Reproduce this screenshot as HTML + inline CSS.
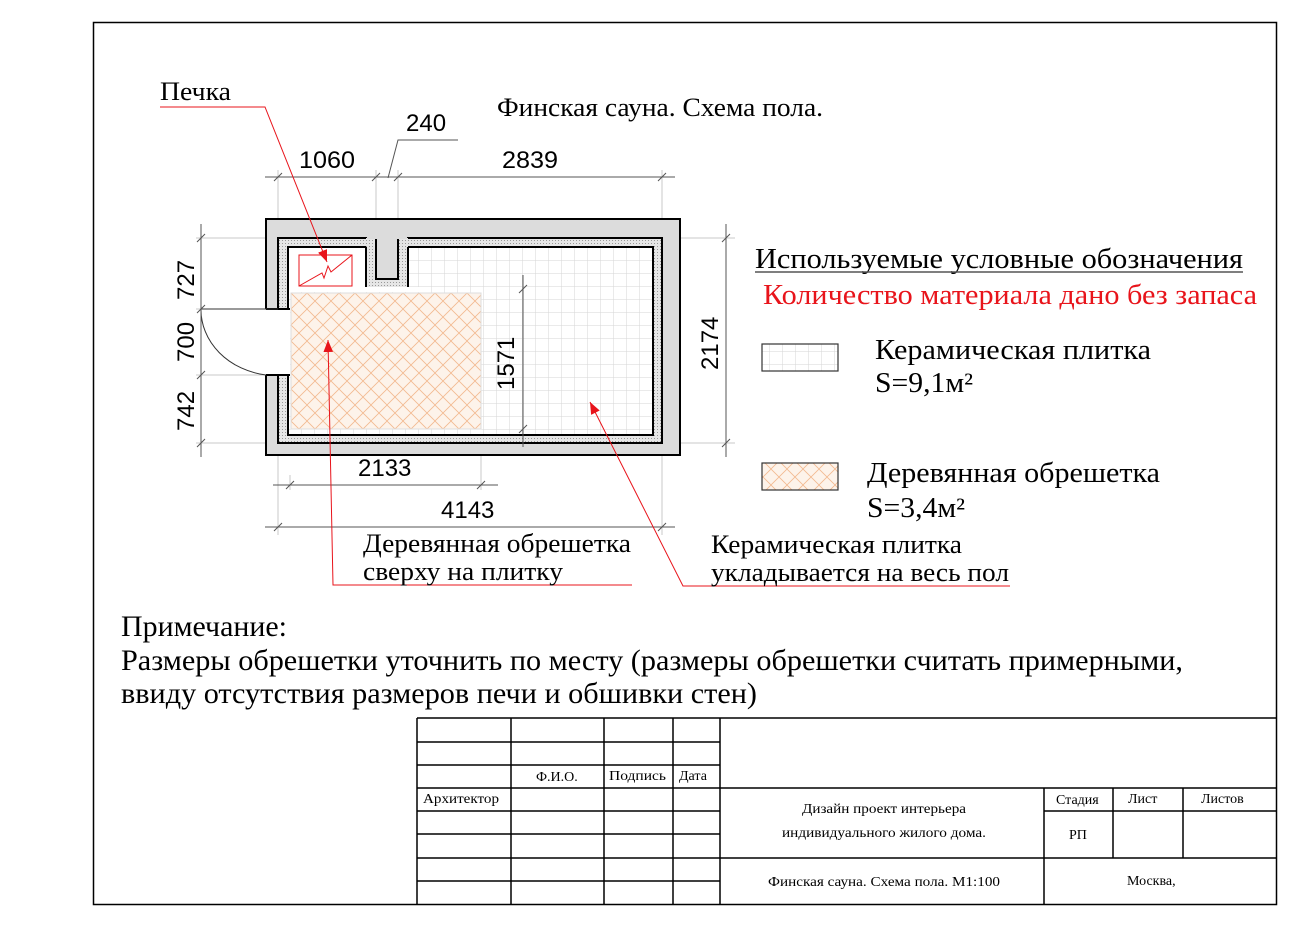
<!DOCTYPE html>
<html><head><meta charset="utf-8"><style>
html,body{margin:0;padding:0;background:#fff}
svg{display:block}
.s{font-family:"Liberation Serif","Noto Serif CJK SC",serif}
.a{font-family:"Liberation Sans","Noto Sans CJK SC",sans-serif}
</style></head><body>
<svg width="1300" height="928" viewBox="0 0 1300 928" xmlns="http://www.w3.org/2000/svg">
<defs>
<pattern id="tile" x="288" y="247" width="13" height="13" patternUnits="userSpaceOnUse">
<rect width="13" height="13" fill="#fff"/><path d="M0 0H13M0 0V13" stroke="#d6d6d6" stroke-width="1"/>
</pattern>
<pattern id="wood" x="291" y="293" width="16" height="16" patternUnits="userSpaceOnUse">
<rect width="16" height="16" fill="#fdf3ea"/><path d="M0 0L16 16M16 0L0 16" stroke="#f3b98f" stroke-width="0.8"/>
</pattern>
<pattern id="dots" width="3" height="3" patternUnits="userSpaceOnUse">
<rect width="3" height="3" fill="#e6e6e6"/><rect width="1" height="1" fill="#999"/>
</pattern>
<marker id="ar" viewBox="0 0 10 10" refX="10" refY="5" markerWidth="12" markerHeight="12" orient="auto-start-reverse" markerUnits="userSpaceOnUse">
<path d="M0 1L10 5L0 9z" fill="#e8141b"/></marker>
</defs>
<rect x="93.5" y="22.5" width="1183" height="882" fill="none" stroke="#000" stroke-width="1.5"/>

<g stroke="#c8c8c8" stroke-width="1">
<path d="M278 170V535M376 170V250M398 170V250M662 170V535M523 270V450"/>
<path d="M196 238H735M196 443H735M196 309H280M196 375H280M290 475V490M481 440V490"/>
</g>

<rect x="266" y="219" width="414" height="236" fill="#dcdcdc" stroke="#000" stroke-width="2"/>
<rect x="278" y="238" width="384" height="205" fill="url(#dots)" stroke="#000" stroke-width="2"/>
<rect x="288" y="247" width="365" height="188" fill="url(#tile)" stroke="#000" stroke-width="2"/>
<rect x="366" y="238" width="42" height="50" fill="url(#dots)"/>
<path d="M366 247V288H408V247" fill="none" stroke="#000" stroke-width="2"/>
<rect x="376" y="238" width="22" height="41" fill="#dcdcdc" stroke="#000" stroke-width="2"/>
<rect x="367" y="236" width="40" height="3" fill="#dcdcdc"/>
<rect x="289" y="248" width="76" height="39" fill="#fff"/>
<rect x="289" y="287" width="130" height="5" fill="#fff"/>
<rect x="264" y="309" width="26" height="66" fill="#fff"/>
<path d="M266 309H290M266 375H290" stroke="#000" stroke-width="2"/>
<path d="M201 309H278" stroke="#333" stroke-width="1"/>
<path d="M201 309A76 66 0 0 0 266 375" fill="none" stroke="#333" stroke-width="1"/>
<rect x="291" y="293" width="190" height="136" fill="url(#wood)" stroke="#ddd" stroke-width="1"/>
<rect x="299" y="255" width="53" height="31" fill="none" stroke="#e8141b" stroke-width="1"/>
<path d="M299 286L322 273L324 278L328 266L331 272L352 255" fill="none" stroke="#e8141b" stroke-width="1"/>

<g stroke="#555" stroke-width="1" fill="none">
<path d="M265 177H675"/>
<path d="M201 224V457M726 224V457M523 275V447M273 485H498M265 527H675"/>
<path d="M274 181L282 173M372 181L380 173M394 181L402 173M658 181L666 173"/>
<path d="M197 242L205 234M197 313L205 305M197 379L205 371M197 447L205 439"/>
<path d="M722 242L730 234M722 447L730 439M519 293L527 285M519 433L527 425"/>
<path d="M286 489L294 481M477 489L485 481M274 531L282 523M658 531L666 523"/>
<path d="M388 178L398 140H458"/>
</g>
<g class="a" font-size="24" fill="#000">
<text x="299" y="168" textLength="56" lengthAdjust="spacingAndGlyphs">1060</text>
<text x="502" y="168" textLength="56" lengthAdjust="spacingAndGlyphs">2839</text>
<text x="406" y="131">240</text>
<text x="358" y="476">2133</text>
<text x="441" y="518">4143</text>
<text transform="translate(194,300) rotate(-90)">727</text>
<text transform="translate(194,362) rotate(-90)">700</text>
<text transform="translate(194,431) rotate(-90)">742</text>
<text transform="translate(514,390) rotate(-90)">1571</text>
<text transform="translate(718,370) rotate(-90)">2174</text>
</g>

<g stroke="#e8141b" stroke-width="1" fill="none">
<path d="M160 107H265L327 262" marker-end="url(#ar)"/>
<path d="M632 585H333L328 340" marker-end="url(#ar)"/>
<path d="M1010 586H683L590 402" marker-end="url(#ar)"/>
</g>

<g class="s" fill="#000" lengthAdjust="spacingAndGlyphs">
<text x="160" y="100" font-size="26" textLength="71" lengthAdjust="spacingAndGlyphs">Печка</text>
<text x="497" y="116" font-size="26" textLength="326" lengthAdjust="spacingAndGlyphs">Финская сауна. Схема пола.</text>
<text x="363" y="552" font-size="26" textLength="268" lengthAdjust="spacingAndGlyphs">Деревянная обрешетка</text>
<text x="363" y="580" font-size="26" textLength="200" lengthAdjust="spacingAndGlyphs">сверху на плитку</text>
<text x="711" y="553" font-size="26" textLength="251" lengthAdjust="spacingAndGlyphs">Керамическая плитка</text>
<text x="711" y="581" font-size="26" textLength="298" lengthAdjust="spacingAndGlyphs">укладывается на весь пол</text>
<text x="755" y="268" font-size="29" textLength="488" lengthAdjust="spacingAndGlyphs">Используемые условные обозначения</text>
<text x="763" y="304" font-size="28" fill="#e8141b" textLength="494" lengthAdjust="spacingAndGlyphs">Количество материала дано без запаса</text>
<text x="875" y="359" font-size="28" textLength="276" lengthAdjust="spacingAndGlyphs">Керамическая плитка</text>
<text x="875" y="392" font-size="28" textLength="98" lengthAdjust="spacingAndGlyphs">S=9,1м²</text>
<text x="867" y="482" font-size="28" textLength="293" lengthAdjust="spacingAndGlyphs">Деревянная обрешетка</text>
<text x="867" y="517" font-size="28" textLength="98" lengthAdjust="spacingAndGlyphs">S=3,4м²</text>
<text x="121" y="636" font-size="30" textLength="166" lengthAdjust="spacingAndGlyphs">Примечание:</text>
<text x="121" y="670" font-size="30" textLength="1062" lengthAdjust="spacingAndGlyphs">Размеры обрешетки уточнить по месту (размеры обрешетки считать примерными,</text>
<text x="121" y="703" font-size="30" textLength="636" lengthAdjust="spacingAndGlyphs">ввиду отсутствия размеров печи и обшивки стен)</text>
</g>
<path d="M755 272H1243" stroke="#555" stroke-width="1.5"/>
<rect x="762" y="344" width="76" height="27" fill="url(#tile)" stroke="#333" stroke-width="1.2"/>
<rect x="762" y="463" width="76" height="27" fill="url(#wood)" stroke="#333" stroke-width="1.2"/>

<g stroke="#000" stroke-width="1.5" fill="none">
<path d="M417 718H1277M417 718V905"/>
<path d="M511 718V905M604 718V905M673 718V905M720 718V905"/>
<path d="M417 742H720M417 765H720M417 788H1277M417 811H720M417 834H720M417 858H1277M417 881H720"/>
<path d="M1044 788V905M1113 788V858M1183 788V858M1044 811H1277"/>
</g>
<g class="s" font-size="14" fill="#000">
<text x="536" y="781">Ф.И.О.</text>
<text x="609" y="780" textLength="57" lengthAdjust="spacingAndGlyphs">Подпись</text>
<text x="679" y="780">Дата</text>
<text x="423" y="803" textLength="76" lengthAdjust="spacingAndGlyphs">Архитектор</text>
<text x="802" y="813" textLength="164" lengthAdjust="spacingAndGlyphs">Дизайн проект интерьера</text>
<text x="782" y="837" textLength="204" lengthAdjust="spacingAndGlyphs">индивидуального жилого дома.</text>
<text x="768" y="886" textLength="232" lengthAdjust="spacingAndGlyphs">Финская сауна. Схема пола. М1:100</text>
<text x="1056" y="804">Стадия</text>
<text x="1128" y="803">Лист</text>
<text x="1201" y="803">Листов</text>
<text x="1069" y="839">РП</text>
<text x="1127" y="885">Москва,</text>
</g>
</svg>
</body></html>
